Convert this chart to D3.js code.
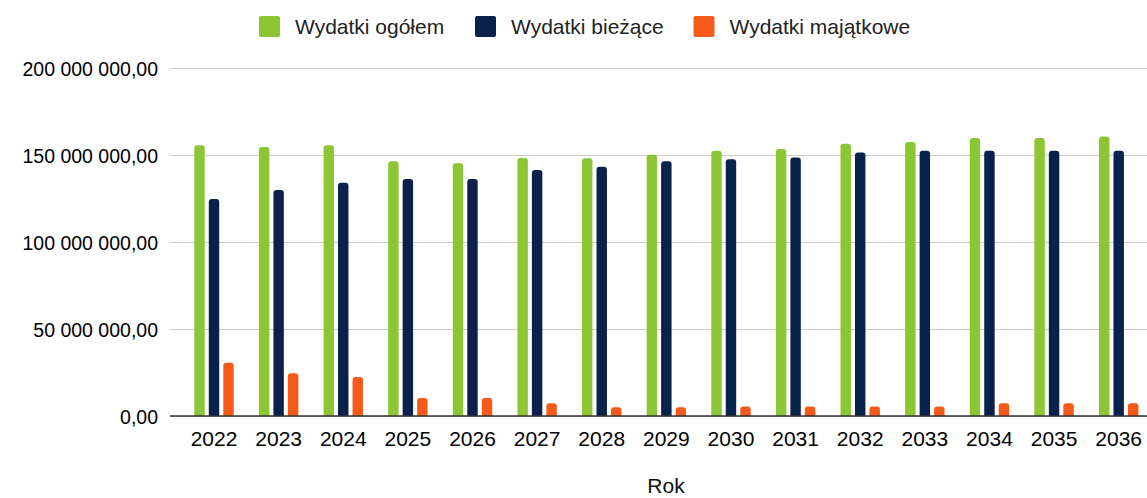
<!DOCTYPE html>
<html>
<head>
<meta charset="utf-8">
<script src="https://cdn.jsdelivr.net/npm/d3@7"></script>
<style>
  html, body { margin: 0; padding: 0; background: #fff; }
  svg { display: block; font-family: "Liberation Sans", Arial, sans-serif; }
</style>
</head>
<body>
<svg width="1147" height="498"></svg>
<script>
// data (values in PLN)
const years = ["2022", "2023", "2024", "2025", "2026", "2027", "2028", "2029",
               "2030", "2031", "2032", "2033", "2034", "2035", "2036"];
const seriesNames = ["Wydatki ogółem", "Wydatki bieżące", "Wydatki majątkowe"];
const ogolem = [155.6, 154.6, 155.6, 146.4, 145.2, 148.3, 148.1, 150.2,
                152.5, 153.4, 156.5, 157.5, 159.8, 159.8, 160.7].map(v => v * 1e6);
const biezace = [124.7, 129.9, 134.1, 136.2, 136.2, 141.4, 143.3, 146.4,
                 147.5, 148.5, 151.5, 152.5, 152.5, 152.5, 152.5].map(v => v * 1e6);
const majatkowe = [30.6, 24.5, 22.4, 10.3, 10.3, 7.3, 5.0, 5.0,
                   5.4, 5.4, 5.4, 5.4, 7.3, 7.3, 7.3].map(v => v * 1e6);
const yTicks = [0, 50e6, 100e6, 150e6, 200e6];

const colors = ["#8dc634", "#0a214c", "#f55a1a"];
const seriesValues = [ogolem, biezace, majatkowe];

const svg = d3.select("svg");

const plotLeft = 170, plotRight = 1147, plotTop = 68, plotBottom = 416;

const x = d3.scaleBand()
    .domain(years)
    .range([181.7, 1151])
    .paddingInner(0.39)
    .paddingOuter(0.195);

const x1 = d3.scaleBand()
    .domain(seriesNames)
    .range([0, x.bandwidth()])
    .paddingInner(0.28);

const y = d3.scaleLinear()
    .domain([0, 200e6])
    .range([plotBottom, plotTop]);

const pl = d3.formatLocale({ decimal: ",", thousands: " ", grouping: [3], currency: ["", ""] });
const fmt = pl.format(",.2f");

// gridlines + y labels
const yAxis = d3.axisLeft(y)
    .tickValues(yTicks)
    .tickFormat(fmt)
    .tickSize(-(plotRight - plotLeft))
    .tickPadding(12);

const gy = svg.append("g")
    .attr("transform", `translate(${plotLeft},0)`)
    .call(yAxis);
gy.select(".domain").remove();
gy.selectAll(".tick line").attr("stroke", "#cccccc").attr("stroke-width", 1);
gy.selectAll(".tick text")
    .attr("fill", "#000")
    .style("font-size", "19.5px")
    .attr("dy", "0.36em");

// bars
function topRounded(x0, y0, w, h, r) {
    r = Math.min(r, h, w / 2);
    return `M${x0},${y0 + h}V${y0 + r}Q${x0},${y0} ${x0 + r},${y0}` +
           `H${x0 + w - r}Q${x0 + w},${y0} ${x0 + w},${y0 + r}V${y0 + h}Z`;
}

const rows = years.map((yr, i) => ({
    year: yr,
    vals: seriesNames.map((s, k) => ({ name: s, value: seriesValues[k][i], color: colors[k] }))
}));

const groups = svg.append("g").selectAll("g")
    .data(rows)
    .join("g")
    .attr("transform", d => `translate(${x(d.year)},0)`);

groups.selectAll("path")
    .data(d => d.vals)
    .join("path")
    .attr("fill", d => d.color)
    .attr("d", d => topRounded(x1(d.name), y(d.value), x1.bandwidth(), plotBottom - y(d.value), 3));

// baseline
svg.append("line")
    .attr("x1", plotLeft).attr("x2", plotRight)
    .attr("y1", plotBottom).attr("y2", plotBottom)
    .attr("stroke", "#333").attr("stroke-width", 1.5);

// x labels
const xAxis = d3.axisBottom(x).tickSize(0).tickPadding(10);
const gx = svg.append("g")
    .attr("transform", `translate(0,${plotBottom})`)
    .call(xAxis);
gx.select(".domain").remove();
gx.selectAll(".tick text")
    .attr("fill", "#000")
    .style("font-size", "21px")
    .attr("dy", "0.95em");

svg.append("text")
    .attr("x", 666).attr("y", 493)
    .attr("text-anchor", "middle")
    .attr("fill", "#111")
    .style("font-size", "21px")
    .text("Rok");

// legend
const legendX = [259, 475, 693.5];
const legend = svg.append("g").selectAll("g")
    .data(seriesNames)
    .join("g")
    .attr("transform", (d, i) => `translate(${legendX[i]},16)`);

legend.append("rect")
    .attr("width", 21).attr("height", 21).attr("rx", 2)
    .attr("fill", (d, i) => colors[i]);

legend.append("text")
    .attr("x", 36).attr("y", 17.5)
    .attr("fill", "#222")
    .style("font-size", "21px")
    .text(d => d);
</script>
</body>
</html>
